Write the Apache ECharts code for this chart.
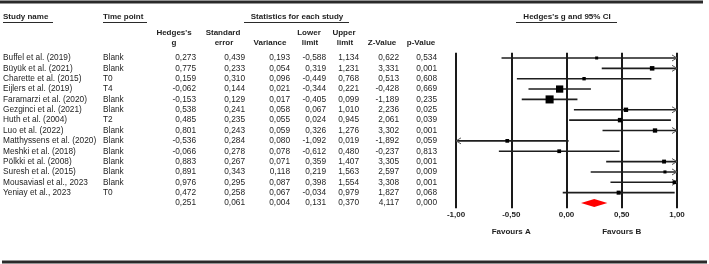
<!DOCTYPE html>
<html>
<head>
<meta charset="utf-8">
<script src="https://cdn.jsdelivr.net/npm/echarts@6/dist/echarts.min.js"></script>
<style>
  html, body { margin: 0; padding: 0; background: #fff; }
  #chart { width: 709px; height: 264px; }
</style>
</head>
<body>
<div id="chart"></div>
<script>
const studies = ['Buffel et al. (2019)', 'Büyük et al. (2021)', 'Charette et al. (2015)', 'Eijlers et al. (2019)',
  'Faramarzi et al. (2020)', 'Gezginci et al. (2021)', 'Huth et al. (2004)', 'Luo et al. (2022)',
  'Matthyssens et al. (2020)', 'Meshki et al. (2018)', 'Pölkki et al. (2008)', 'Suresh et al. (2015)',
  'Mousaviasl et al., 2023', 'Yeniay et al., 2023'];
const timePoints = ['Blank', 'Blank', 'T0', 'T4', 'Blank', 'Blank', 'T2', 'Blank', 'Blank', 'Blank', 'Blank', 'Blank', 'Blank', 'T0'];
const hedgesG = [0.273, 0.775, 0.159, -0.062, -0.153, 0.538, 0.485, 0.801, -0.536, -0.066, 0.883, 0.891, 0.976, 0.472];
const stdError = [0.439, 0.233, 0.310, 0.144, 0.129, 0.241, 0.235, 0.243, 0.284, 0.278, 0.267, 0.343, 0.295, 0.258];
const variance = [0.193, 0.054, 0.096, 0.021, 0.017, 0.058, 0.055, 0.059, 0.080, 0.078, 0.071, 0.118, 0.087, 0.067];
const lowerLimit = [-0.588, 0.319, -0.449, -0.344, -0.405, 0.067, 0.024, 0.326, -1.092, -0.612, 0.359, 0.219, 0.398, -0.034];
const upperLimit = [1.134, 1.231, 0.768, 0.221, 0.099, 1.010, 0.945, 1.276, 0.019, 0.480, 1.407, 1.563, 1.554, 0.979];
const zValue = [0.622, 3.331, 0.513, -0.428, -1.189, 2.236, 2.061, 3.302, -1.892, -0.237, 3.305, 2.597, 3.308, 1.827];
const pValue = [0.534, 0.001, 0.608, 0.669, 0.235, 0.025, 0.039, 0.001, 0.059, 0.813, 0.001, 0.009, 0.001, 0.068];
// pooled row: g, se, variance, lower, upper, z, p
const summary = [0.251, 0.061, 0.004, 0.131, 0.370, 4.117, 0.000];

const FONT = "'Liberation Sans', Arial, sans-serif";
const INK = '#1e1e1e';
const X_MIN = -1, X_MAX = 1;
const rowNames = studies.concat(['']);

const fmt = v => v.toFixed(3).replace('.', ',');

// table columns: right edge (px) and source
const numCols = [
  { right: 196, vals: hedgesG, s: 0 },
  { right: 245, vals: stdError, s: 1 },
  { right: 290, vals: variance, s: 2 },
  { right: 326, vals: lowerLimit, s: 3 },
  { right: 359, vals: upperLimit, s: 4 },
  { right: 399, vals: zValue, s: 5 },
  { right: 437, vals: pValue, s: 6 }
];

function txt(x, y, text, align, extra) {
  return {
    type: 'text',
    style: Object.assign({ x: x, y: y, text: text, align: align || 'left', verticalAlign: 'middle',
      font: '8.3px ' + FONT, fill: INK }, extra || {})
  };
}

function renderTable(params, api) {
  const i = api.value(1);
  const y = api.coord([0, i])[1];
  const kids = [];
  if (i < studies.length) {
    kids.push(txt(3, y, studies[i]));
    kids.push(txt(103, y, timePoints[i]));
    numCols.forEach(c => kids.push(txt(c.right, y, fmt(c.vals[i]), 'right')));
  } else {
    numCols.forEach(c => kids.push(txt(c.right, y, fmt(summary[c.s]), 'right')));
    // footer labels under the plot
    const band = api.size([0, 1])[1];
    const fy = y + band / 2 + 24;
    kids.push(txt(api.coord([-0.5, i])[0], fy, 'Favours A', 'center', { font: 'bold 8px ' + FONT }));
    kids.push(txt(api.coord([0.5, i])[0], fy, 'Favours B', 'center', { font: 'bold 8px ' + FONT }));
  }
  return { type: 'group', children: kids };
}

function renderStudy(params, api) {
  const i = api.value(0);
  const lo = api.value(1), hi = api.value(2), est = api.value(3), v = api.value(4);
  const y = api.coord([0, i])[1];
  const xL = api.coord([Math.max(lo, X_MIN), i])[0];
  const xR = api.coord([Math.min(hi, X_MAX), i])[0];
  const xE = api.coord([est, i])[0];
  const size = Math.max(3, Math.sqrt(1 / v) * 1.05);
  const kids = [{ type: 'line', shape: { x1: xL, y1: y, x2: xR, y2: y }, style: { stroke: INK, lineWidth: 1.6 } }];
  if (hi > X_MAX) {
    kids.push({ type: 'polyline', shape: { points: [[xR - 5, y - 3], [xR, y], [xR - 5, y + 3]] },
      style: { stroke: '#555', lineWidth: 1, fill: null } });
  }
  if (lo < X_MIN) {
    kids.push({ type: 'polyline', shape: { points: [[xL + 5, y - 3], [xL, y], [xL + 5, y + 3]] },
      style: { stroke: '#555', lineWidth: 1, fill: null } });
  }
  kids.push({ type: 'rect', shape: { x: xE - size / 2, y: y - size / 2, width: size, height: size },
    style: { fill: '#000' } });
  return { type: 'group', children: kids };
}

function renderDiamond(params, api) {
  const i = api.value(0);
  const lo = api.coord([api.value(1), i]);
  const hi = api.coord([api.value(2), i]);
  const mid = api.coord([api.value(3), i]);
  const h = 4;
  return {
    type: 'polygon',
    shape: { points: [[lo[0], lo[1]], [mid[0], mid[1] - h], [hi[0], hi[1]], [mid[0], mid[1] + h]] },
    style: { fill: '#ff0000' }
  };
}

const chart = echarts.init(document.getElementById('chart'), null, { renderer: 'canvas' });

const head = (x, y, text, align) => ({
  type: 'text', x: x, y: y,
  style: { text: text, align: align || 'center', verticalAlign: 'middle',
    font: 'bold 8px ' + FONT, fill: INK }
});
const rule = (x1, y1, x2, y2, w) => ({
  type: 'line', shape: { x1: x1, y1: y1, x2: x2, y2: y2 }, style: { stroke: '#2a2a2a', lineWidth: w }
});

chart.setOption({
  animation: false,
  grid: { left: 456, right: 32, top: 52.8, bottom: 55.8 },
  xAxis: {
    type: 'value', min: X_MIN, max: X_MAX, interval: 0.5,
    axisLine: { show: false }, axisTick: { show: false },
    splitLine: { show: true, lineStyle: { color: '#1a1a1a', width: 2 } },
    axisLabel: { margin: 3, fontSize: 8, fontWeight: 'bold', fontFamily: FONT, color: INK,
      formatter: v => v.toFixed(2).replace('.', ',') }
  },
  yAxis: {
    type: 'category', data: rowNames, inverse: true,
    axisLine: { show: false }, axisTick: { show: false }, axisLabel: { show: false },
    splitLine: { show: false }
  },
  graphic: [
    rule(0, 2, 703, 2, 3),
    rule(2, 262, 707, 262, 3),
    head(3, 17, 'Study name', 'left'), rule(3, 22.5, 53, 22.5, 1),
    head(103, 17, 'Time point', 'left'), rule(103, 22.5, 147, 22.5, 1),
    head(297, 17, 'Statistics for each study'), rule(244, 22.5, 349, 22.5, 1),
    head(567, 17, "Hedges's g and 95% CI"), rule(516, 22.5, 617, 22.5, 1),
    head(174, 33, "Hedges's"), head(174, 43, 'g'),
    head(223, 33, 'Standard'), head(224, 43, 'error'),
    head(270, 43, 'Variance'),
    head(309, 33, 'Lower'), head(310, 43, 'limit'),
    head(344, 33, 'Upper'), head(345, 43, 'limit'),
    head(382, 43, 'Z-Value'),
    head(421, 43, 'p-Value')
  ],
  series: [
    {
      type: 'custom', name: 'table', renderItem: renderTable, silent: true,
      encode: { x: 0, y: 1 },
      data: rowNames.map((_, i) => [0, i])
    },
    {
      type: 'custom', name: 'studies', renderItem: renderStudy, silent: true,
      encode: { x: [1, 2, 3], y: 0 },
      data: studies.map((_, i) => [i, lowerLimit[i], upperLimit[i], hedgesG[i], variance[i]])
    },
    {
      type: 'custom', name: 'pooled', renderItem: renderDiamond, silent: true,
      encode: { x: [1, 2, 3], y: 0 },
      data: [[studies.length, summary[3], summary[4], summary[0]]]
    }
  ]
});
</script>
</body>
</html>
